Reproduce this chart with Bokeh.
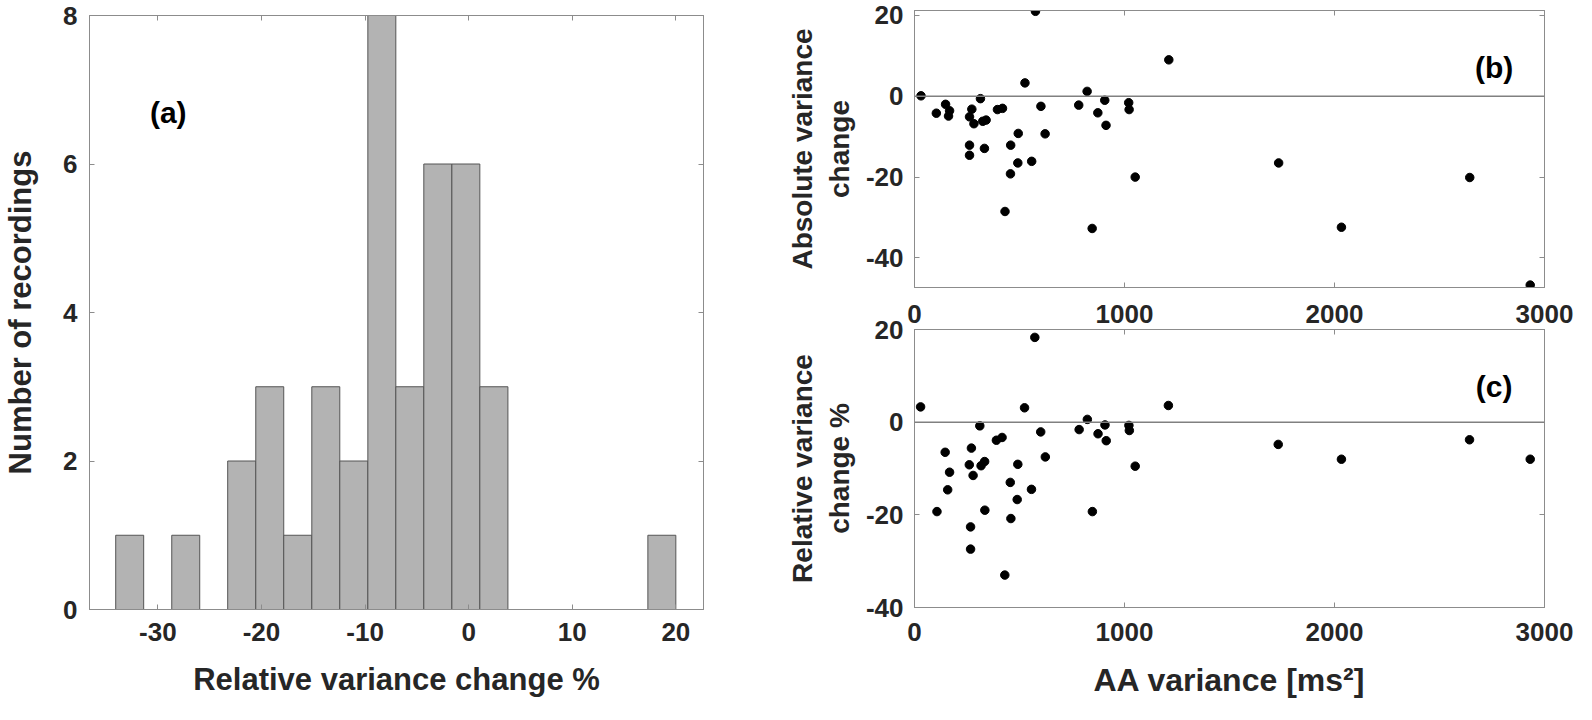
from bokeh.plotting import figure
from bokeh.models import Range1d, LinearAxis, FixedTicker, Span, Label, PrintfTickFormatter
from bokeh.layouts import row, column
from bokeh.embed import file_html
from bokeh.resources import INLINE

# ---------------- data ----------------
# (a) histogram of relative variance change (%)
bin_edges = [-34.07, -31.37, -28.66, -25.96, -23.26, -20.55, -17.85, -15.14,
             -12.44, -9.73, -7.03, -4.33, -1.62, 1.08, 3.79, 6.49, 9.19,
             11.90, 14.60, 17.30, 20.00]
bin_counts = [1, 0, 1, 0, 2, 3, 1, 3, 2, 8, 3, 6, 6, 3, 0, 0, 0, 0, 0, 1]

# (b) absolute variance change vs AA variance
aa_var_b = [31, 104, 148, 162, 167, 262, 262, 262, 273, 283, 314, 325, 333, 341,
            395, 419, 431, 457, 458, 492, 494, 526, 558, 576, 602, 622, 782, 822,
            846, 873, 906, 912, 1020, 1022, 1051, 1211, 1734, 2033, 2644, 2932]
abs_change = [0.1, -4.2, -2.0, -4.9, -3.6, -5.1, -12.1, -14.6, -3.2, -6.8, -0.6,
              -6.2, -12.9, -5.9, -3.3, -3.0, -28.5, -19.2, -12.1, -16.5, -9.2, 3.3,
              -16.1, 21.0, -2.5, -9.3, -2.2, 1.2, -32.7, -4.1, -1.0, -7.2, -1.6,
              -3.3, -20.0, 9.0, -16.5, -32.4, -20.1, -46.7]

# (c) relative variance change (%) vs AA variance
aa_var_c = [29, 107, 146, 158, 167, 261, 267, 267, 271, 279, 311, 317, 334, 335,
            390, 417, 430, 456, 459, 489, 492, 524, 557, 573, 601, 623, 784, 823,
            847, 874, 907, 913, 1021, 1023, 1051, 1209, 1732, 2033, 2643, 2932]
rel_change = [3.3, -19.3, -6.5, -14.6, -10.8, -9.2, -22.6, -27.4, -5.6, -11.5,
              -0.8, -9.4, -8.5, -19.0, -3.9, -3.3, -33.0, -13.0, -20.8, -16.7,
              -9.1, 3.1, -14.5, 18.3, -2.1, -7.5, -1.6, 0.6, -19.3, -2.5, -0.6,
              -4.0, -0.7, -1.8, -9.5, 3.6, -4.8, -8.0, -3.8, -8.0]

hist_xticks = [-30, -20, -10, 0, 10, 20]
hist_yticks = [0, 2, 4, 6, 8]
aa_ticks = [0, 1000, 2000, 3000]
change_ticks = [-40, -20, 0, 20]

# ---------------- style ----------------
FONT = "Liberation Sans"
BOX = "#8c8c8c"
TXT = "#262626"
TICK_FS = "26px"


def style_axis(ax, ticks, labels=True, standoff=12):
    ax.ticker = FixedTicker(ticks=ticks)
    ax.formatter = PrintfTickFormatter(format="%d")
    ax.major_tick_in = 5
    ax.major_tick_out = 0
    ax.minor_tick_line_color = None
    ax.axis_line_color = BOX
    ax.major_tick_line_color = BOX
    ax.major_label_text_font = FONT
    ax.major_label_text_font_style = "bold"
    ax.axis_label_text_font = FONT
    ax.axis_label_text_font_style = "bold"
    ax.axis_label_text_color = TXT
    if labels:
        ax.major_label_text_color = TXT
        ax.major_label_text_font_size = TICK_FS
        ax.major_label_standoff = standoff
    else:
        ax.major_label_text_color = None
        ax.major_label_text_font_size = "1px"
        ax.major_label_standoff = 0


def set_label(ax, text, size, standoff):
    ax.axis_label = text
    ax.axis_label_text_font_size = size
    ax.axis_label_standoff = standoff


def base_fig(w, h, xr, yr, bl, br, bt, bb):
    p = figure(width=w, height=h, x_range=xr, y_range=yr,
               output_backend="svg", toolbar_location=None,
               min_border_left=bl, min_border_right=br,
               min_border_top=bt, min_border_bottom=bb)
    p.xgrid.visible = False
    p.ygrid.visible = False
    p.outline_line_color = BOX
    p.background_fill_color = "white"
    p.border_fill_color = "white"
    return p


def panel_tag(p, x, y, text):
    p.add_layout(Label(x=x, y=y, text=text, text_align="center", text_baseline="middle",
                       text_font=FONT, text_font_style="bold", text_font_size="30px",
                       text_color="black"))


# ---------------- (a) histogram ----------------
pa = base_fig(780, 704, Range1d(-36.6, 22.67), Range1d(0, 8), 86, 77, 15, 95)
lefts = [bin_edges[i] for i in range(len(bin_counts)) if bin_counts[i] > 0]
rights = [bin_edges[i + 1] for i in range(len(bin_counts)) if bin_counts[i] > 0]
tops = [c for c in bin_counts if c > 0]
pa.quad(left=lefts, right=rights, bottom=0, top=tops,
        fill_color="#b3b3b3", line_color="#555555", line_width=1)
style_axis(pa.xaxis[0], hist_xticks, standoff=13)
style_axis(pa.yaxis[0], hist_yticks, standoff=12)
set_label(pa.xaxis[0], "Relative variance change %", "31px", 18)
set_label(pa.yaxis[0], "Number of recordings", "31px", 22)
ax = LinearAxis(); style_axis(ax, hist_xticks, labels=False); pa.add_layout(ax, "above")
ax = LinearAxis(); style_axis(ax, hist_yticks, labels=False); pa.add_layout(ax, "right")
panel_tag(pa, -29, 6.7, "(a)")

# ---------------- (b) absolute change ----------------
pb = base_fig(796, 292, Range1d(0, 3000), Range1d(-47.3, 21.2), 134, 31, 10, 5)
pb.add_layout(Span(location=0, dimension="width", line_color="#808080", line_width=1.5))
pb.scatter(aa_var_b, abs_change, size=8.5, color="black", marker="circle")
style_axis(pb.xaxis[0], aa_ticks, labels=False)
style_axis(pb.yaxis[0], change_ticks, standoff=11)
set_label(pb.yaxis[0], "Absolute variance\nchange", "28px", 8)
ax = LinearAxis(); style_axis(ax, aa_ticks, labels=False); pb.add_layout(ax, "above")
ax = LinearAxis(); style_axis(ax, change_ticks, labels=False); pb.add_layout(ax, "right")
panel_tag(pb, 2760, 7.0, "(b)")

# ---------------- (c) relative change ----------------
pc = base_fig(796, 412, Range1d(0, 3000), Range1d(-40, 20), 132, 32, 37, 97)
pc.add_layout(Span(location=0, dimension="width", line_color="#808080", line_width=1.5))
pc.scatter(aa_var_c, rel_change, size=8.5, color="black", marker="circle")
style_axis(pc.xaxis[0], aa_ticks, standoff=15)
style_axis(pc.yaxis[0], change_ticks, standoff=11)
set_label(pc.xaxis[0], "AA variance [ms\u00b2]", "32px", 18)
set_label(pc.yaxis[0], "Relative variance\nchange %", "28px", 8)
# tick labels of panel (b)'s x axis, drawn just above panel (c)
ax = LinearAxis(); style_axis(ax, aa_ticks, standoff=7); pc.add_layout(ax, "above")
ax = LinearAxis(); style_axis(ax, change_ticks, labels=False); pc.add_layout(ax, "right")
panel_tag(pc, 2760, 7.8, "(c)")

layout = row(pa, column(pb, pc))
open("out.html", "w").write(file_html(layout, INLINE))
